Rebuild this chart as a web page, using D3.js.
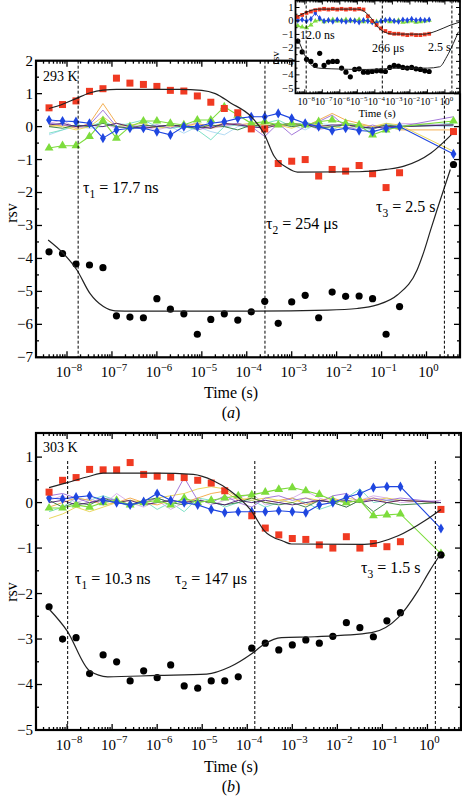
<!DOCTYPE html>
<html><head><meta charset="utf-8">
<script src="https://cdn.jsdelivr.net/npm/d3@7"></script>
<style>body{margin:0;background:#fff} text{font-family:"Liberation Serif","Times New Roman",serif;fill:#000}</style>
</head><body><script>
// ---------------- DATA ----------------
// log10(time / s) grids
const logTimeA = [-8.4,-8.1,-7.8,-7.5,-7.2,-6.9,-6.6,-6.3,-6.0,-5.7,-5.4,-5.1,-4.8,-4.5,-4.2,-3.9,-3.6,-3.3,-3.0,-2.7,-2.4,-2.1,-1.8,-1.5,-1.2,-0.9,-0.6,0.6];
const logTimeB = [-8.4,-8.1,-7.8,-7.5,-7.2,-6.9,-6.6,-6.3,-6.0,-5.7,-5.4,-5.1,-4.8,-4.5,-4.2,-3.9,-3.6,-3.3,-3.0,-2.7,-2.4,-2.1,-1.8,-1.5,-1.2,-0.9,-0.6,0.3];
const logTimeIn = [-8.4,-8.15,-7.9,-7.65,-7.4,-7.15,-6.9,-6.65,-6.4,-6.15,-5.9,-5.65,-5.4,-5.15,-4.9,-4.65,-4.4,-4.15,-3.9,-3.65,-3.4,-3.15,-2.9,-2.65,-2.4,-2.15,-1.9,-1.65,-1.4,-1.15,-0.9];
const decadeExps = [-8,-7,-6,-5,-4,-3,-2,-1,0];

// panel (a) 293 K
const redA = [0.57,0.67,0.78,1.07,1.15,1.47,1.32,1.28,1.22,1.10,1.08,0.93,0.74,0.55,0.42,-0.07,-0.07,-1.12,-1.05,-1.0,-1.5,-1.3,-1.35,-1.18,-1.43,-1.85,-1.4,-0.15];
const blackA = [-3.80,-3.85,-4.17,-4.2,-4.28,-5.74,-5.78,-5.8,-5.22,-5.54,-5.68,-6.3,-5.85,-5.68,-5.87,-5.62,-5.3,-5.97,-5.32,-5.12,-5.8,-5.02,-5.15,-5.14,-5.22,-6.3,-5.46,-1.15];
const greenA = [-0.65,-0.58,-0.58,-0.3,0.18,-0.35,0.0,0.17,0.17,0.1,0.05,0.2,0.2,0.6,0.35,0.1,0.15,0.05,0.1,0.05,0.15,0.2,0.1,0.05,-0.25,-0.1,0.0,0.17];
const blueA = [0.2,0.17,0.15,0.1,-0.35,-0.1,-0.05,-0.05,-0.15,-0.25,0.0,0.0,0.1,0.15,0.25,0.3,0.3,0.4,0.25,0.1,0.0,-0.12,-0.05,-0.12,-0.15,-0.05,0.0,-0.83];
const orangeA = [0.0,0.05,-0.05,0.1,0.7,0.1,0.0,-0.05,0.0,0.05,0.0,0.1,0.0,0.1,0.05,0.1,0.05,0.0,0.1,0.0,0.2,0.4,0.2,0.1,0.0,0.05,-0.1,-0.1];
const yellowA = [0.05,0.0,-0.1,0.0,0.3,0.0,0.05,0.1,-0.05,0.0,0.05,0.0,-0.05,0.05,0.1,0.0,0.1,0.05,-0.05,0.1,0.05,0.0,-0.05,0.05,0.0,0.1,0.05,-0.75];
const purpleA = [0.1,0.05,0.0,0.05,0.5,0.0,-0.05,0.0,0.05,-0.05,0.1,-0.1,0.0,0.05,0.1,0.0,-0.3,0.1,-0.25,0.0,0.15,0.35,0.0,-0.1,0.05,-0.1,0.0,0.3];
const cyanA = [-0.2,-0.1,0.05,0.0,0.15,0.0,0.1,0.2,0.0,-0.05,0.0,-0.1,-0.4,0.0,0.05,-0.05,0.1,0.2,0.0,0.15,0.0,-0.1,0.1,0.0,-0.1,0.1,0.0,0.1];
const lightBlueA = [-0.25,-0.1,0.0,-0.05,0.0,0.1,0.05,-0.1,0.05,0.0,-0.2,0.0,-0.15,-0.25,0.0,0.05,0.15,0.0,0.05,-0.1,0.1,0.05,-0.05,0.0,-0.2,0.0,0.05,0.0];
const darkPurpleA = [0.05,0.1,0.0,0.05,0.0,0.1,0.0,-0.05,0.0,0.05,0.0,0.0,-0.05,0.1,0.05,0.0,-0.05,0.05,0.1,0.05,0.0,0.05,0.05,0.0,-0.05,0.0,0.0,0.05];
const darkGreenA = [0.0,-0.05,0.05,0.0,0.1,0.0,-0.05,0.05,0.0,0.05,0.0,-0.05,0.05,0.0,-0.1,0.05,0.0,0.1,0.0,0.05,-0.05,0.0,0.05,0.0,-0.05,0.05,0.0,0.05];
const lavenderA = [0.1,0.2,-0.05,0.0,0.1,-0.05,0.05,0.0,-0.1,0.0,0.05,0.1,-0.05,0.0,0.1,-0.05,0.0,0.05,0.0,0.1,-0.1,0.0,0.1,0.05,0.0,-0.05,0.1,0.05];
const redFitA = [[-8.4,0.55],[-8.1,0.68],[-7.8,0.85],[-7.5,1.02],[-7.2,1.11],[-6.9,1.13],[-5.5,1.13],[-5.0,1.1],[-4.7,1.0],[-4.36,0.72],[-3.9,0.3],[-3.62,-0.2],[-3.39,-0.9],[-3.1,-1.25],[-2.87,-1.38],[-1.5,-1.37],[-0.9,-1.3],[-0.5,-1.2],[0.1,-0.8],[0.55,-0.25]];
const blackFitA = [[-8.42,-3.44],[-8.08,-3.85],[-7.78,-4.35],[-7.49,-5.06],[-7.19,-5.46],[-6.93,-5.59],[-6.5,-5.6],[-4,-5.6],[-2.2,-5.57],[-1.54,-5.52],[-1.1,-5.41],[-0.65,-5.11],[-0.21,-4.35],[-0.06,-3.8],[0.09,-3.14],[0.24,-2.5],[0.53,-1.3]];
const tausA = [17.7e-9, 254e-6, 2.5];

// panel (b) 303 K
const redB = [0.23,0.49,0.55,0.73,0.72,0.72,0.88,0.62,0.58,0.56,0.55,0.49,0.43,0.26,null,-0.29,-0.56,-0.71,-0.79,-0.81,-0.93,-1.0,-0.75,-1.0,-0.9,-0.97,-0.86,-0.15];
const blackB = [-2.29,-3.0,-2.97,-3.76,-3.35,-3.5,-3.92,-3.7,-3.85,-3.57,-4.03,-4.08,-3.92,-3.92,-3.83,-3.2,-3.09,-3.24,-3.13,-3.02,-3.09,-2.94,-2.64,-2.75,-2.95,-2.6,-2.42,-1.15];
const greenB = [-0.12,-0.12,-0.05,-0.1,0.0,0.05,-0.05,0.0,0.05,-0.05,0.1,0.0,0.05,0.1,0.15,0.17,0.23,0.29,0.33,0.26,0.18,0.05,0.0,0.05,-0.29,-0.27,-0.25,-1.12];
const blueB = [0.1,0.08,0.12,0.15,0.05,0.0,-0.05,0.02,0.2,0.05,0.0,-0.05,-0.15,-0.22,-0.2,-0.2,-0.2,-0.18,-0.2,-0.22,-0.05,0.0,0.11,0.2,0.33,0.35,0.35,-0.57];
const yellowB = [-0.35,-0.25,-0.1,-0.2,-0.1,0.0,0.05,0.0,0.1,0.15,0.2,0.3,0.35,0.3,0.1,0.05,0.1,0.05,0.0,0.1,0.05,0.0,0.1,0.05,0.05,0.1,0.05,0.0];
const orangeB = [-0.1,0.0,0.1,0.05,-0.05,0.0,0.1,0.0,-0.05,0.05,0.0,0.1,0.2,0.25,0.05,0.1,0.0,0.05,0.1,-0.05,0.05,0.1,0.0,0.05,0.1,0.0,0.05,0.0];
const purpleB = [0.15,0.2,0.1,0.0,0.1,0.05,-0.05,0.0,0.1,0.0,0.55,0.05,0.0,0.15,0.0,-0.1,0.1,0.15,0.05,0.1,0.0,0.15,0.2,0.0,0.1,0.05,0.1,0.0];
const cyanB = [-0.2,-0.1,0.1,0.05,0.15,0.05,-0.1,0.05,-0.15,0.0,-0.2,0.1,0.05,-0.1,0.0,0.05,-0.1,0.0,0.1,0.0,-0.15,-0.05,0.1,0.3,0.0,0.05,0.05,0.0];
const lavenderB = [0.05,0.15,0.0,0.1,-0.05,0.2,0.0,-0.1,0.05,-0.15,0.0,0.1,-0.05,0.05,0.1,0.2,-0.05,0.0,0.1,0.25,0.1,0.0,-0.1,0.05,0.15,0.1,0.0,0.05];
const darkPurpleB = [0.0,0.05,-0.05,0.0,0.05,0.0,0.05,-0.05,0.0,0.05,0.0,0.05,0.0,-0.05,0.05,0.0,0.05,0.0,-0.05,0.0,0.05,0.0,0.05,0.0,0.05,0.0,0.05,0.0];
const darkGreenB = [0.05,-0.1,0.0,-0.05,0.1,0.0,-0.05,0.05,0.1,0.0,-0.05,0.05,0.0,-0.05,0.0,0.1,0.0,-0.05,0.0,-0.1,0.05,0.0,-0.1,0.05,-0.2,0.0,-0.05,0.0];
const redFitB = [[-8.4,0.33],[-8.0,0.44],[-7.5,0.58],[-7.2,0.65],[-6,0.65],[-5.2,0.62],[-4.75,0.48],[-4.38,0.26],[-3.91,-0.18],[-3.62,-0.62],[-3.2,-0.85],[-3.02,-0.91],[-1.4,-0.92],[-0.65,-0.73],[-0.06,-0.4],[0.3,-0.15]];
const blackFitB = [[-8.4,-2.34],[-8.0,-2.82],[-7.5,-3.7],[-7.1,-3.83],[-6,-3.8],[-4.9,-3.77],[-4.38,-3.61],[-3.91,-3.33],[-3.62,-3.11],[-3.24,-2.97],[-2.5,-2.95],[-1.24,-2.86],[-0.65,-2.53],[-0.21,-1.94],[0.05,-1.5],[0.3,-1.12]];
const tausB = [10.3e-9, 147e-6, 1.5];

// inset
const redIn = [0.3,0.45,0.6,0.7,0.8,0.85,0.9,0.85,0.9,0.85,0.9,0.85,0.9,0.85,0.9,0.85,0.35,0.0,-0.3,-0.55,-0.75,-0.88,-0.95,-0.95,-1.0,-1.05,-1.0,-1.05,-1.05,-1.0,-0.95];
const blackIn = [-1.5,-2.3,-2.85,-3.0,-3.3,-2.4,-3.3,-3.05,-3.0,-3.0,-3.5,-3.8,-4.15,-3.6,-3.55,-3.8,-3.8,-3.75,-3.7,-3.7,-3.75,-3.45,-3.3,-3.35,-3.45,-3.5,-3.45,-3.55,-3.6,-3.7,-3.75];
const greenIn = [-0.35,-0.45,-0.5,-0.3,0.0,0.1,-0.05,0.05,0.1,0.0,0.05,0.1,0.0,0.05,0.1,-0.05,0.05,-0.1,-0.05,0.0,0.05,-0.05,0.0,0.05,-0.1,-0.05,0.0,-0.1,-0.05,0.0,0.05];
const blueIn = [0.05,0.1,0.0,0.15,0.6,0.2,0.0,0.05,-0.05,0.1,0.0,-0.05,0.05,0.0,-0.1,0.05,0.0,-0.1,-0.15,0.0,0.05,0.1,0.0,-0.05,0.1,0.05,0.15,0.05,0.1,0.05,0.1];
const redFitIn = [[-8.4,0.35],[-8.0,0.6],[-7.6,0.8],[-7.2,0.88],[-5,0.88],[-4.6,0.7],[-4.2,0.2],[-3.8,-0.5],[-3.4,-0.85],[-3.0,-0.97],[-1.2,-0.98],[-0.5,-0.75],[0.29,-0.32],[0.85,-0.08]];
const blackFitIn = [[-8.4,-1.3],[-8.15,-2.1],[-7.9,-2.8],[-7.6,-3.3],[-7.2,-3.5],[-6.5,-3.55],[-4.5,-3.6],[-3.5,-3.55],[-2.5,-3.5],[-1,-3.5],[-0.3,-3.4],[0.1,-2.66],[0.48,-1.67],[0.77,-0.8]];
const tausIn = [12.0e-9, 266e-6, 2.5];

// ---------------- DRAWING ----------------
const svg = d3.select("body").append("svg").attr("width",462).attr("height",798);
svg.append("rect").attr("width",462).attr("height",798).attr("fill","#fff");
const T = e => Math.pow(10, e);
const COL = {red:"#f03a22", green:"#7ddc3c", blue:"#1f46e0", orange:"#f2a640", yellow:"#e6d24a",
  purple:"#9a6ad6", cyan:"#6fdcc0", lightBlue:"#a9d6f2", darkPurple:"#4a1870", darkGreen:"#2f7a38", lavender:"#d6a8e8"};

function drawAxes(g, x, y, o) {
  const [x0, x1] = x.range(), [y0, y1] = y.range();
  const [d0, d1] = x.domain();
  const minors = [];
  for (let k = -10; k <= 1; k++) for (let m = 2; m <= 9; m++) { const v = m * T(k); if (v > d0 && v < d1) minors.push(v); }
  const majors = decadeExps.map(T);
  const tk = g.append("g").attr("stroke", "#000").attr("stroke-width", o.tw);
  minors.forEach(v => {
    tk.append("line").attr("x1", x(v)).attr("x2", x(v)).attr("y1", y0).attr("y2", y0 - o.mn);
    tk.append("line").attr("x1", x(v)).attr("x2", x(v)).attr("y1", y1).attr("y2", y1 + o.mn);
  });
  majors.forEach(v => {
    tk.append("line").attr("x1", x(v)).attr("x2", x(v)).attr("y1", y0).attr("y2", y0 - o.mj);
    tk.append("line").attr("x1", x(v)).attr("x2", x(v)).attr("y1", y1).attr("y2", y1 + o.mj);
  });
  o.yMajor.forEach(v => {
    tk.append("line").attr("x1", x0).attr("x2", x0 + o.mj).attr("y1", y(v)).attr("y2", y(v));
    tk.append("line").attr("x1", x1).attr("x2", x1 - o.mj).attr("y1", y(v)).attr("y2", y(v));
  });
  o.yMinor.forEach(v => {
    tk.append("line").attr("x1", x0).attr("x2", x0 + o.mn).attr("y1", y(v)).attr("y2", y(v));
    tk.append("line").attr("x1", x1).attr("x2", x1 - o.mn).attr("y1", y(v)).attr("y2", y(v));
  });
  g.append("rect").attr("x", x0).attr("y", y1).attr("width", x1 - x0).attr("height", y0 - y1)
    .attr("fill", "none").attr("stroke", "#000").attr("stroke-width", o.fw);
  decadeExps.forEach(k => {
    const t = g.append("text").attr("x", x(T(k)) + o.lx).attr("y", y0 + o.ly).attr("text-anchor", "middle").attr("font-size", o.fs);
    t.append("tspan").text("10");
    t.append("tspan").attr("dy", -o.fs * 0.45).attr("font-size", o.fs * o.sup).text(k === 0 ? "0" : "\u2212" + (-k));
  });
  o.yMajor.forEach(v => {
    g.append("text").attr("x", x0 - o.yl).attr("y", y(v) + o.yfs * 0.33).attr("text-anchor", "end").attr("font-size", o.yfs)
      .text(v < 0 ? "\u2212" + (-v) : String(v));
  });
}

function drawData(g, x, y, times, c, s) {
  const pts = vals => vals.map((v, i) => [times[i], v]).filter(d => d[1] !== null);
  const line = d3.line().x(d => x(T(d[0]))).y(d => y(d[1]));
  (c.thin || []).forEach(([vals, col]) => {
    g.append("path").attr("d", line(pts(vals))).attr("fill", "none").attr("stroke", col).attr("stroke-width", s.thinW);
  });
  [[c.green, COL.green, d3.symbolTriangle, s.tri], [c.blue, COL.blue, d3.symbolDiamond, s.dia]].forEach(([vals, col, sym, sz]) => {
    if (!vals) return;
    g.append("path").attr("d", line(pts(vals))).attr("fill", "none").attr("stroke", col).attr("stroke-width", s.markLineW);
    g.selectAll(null).data(pts(vals)).enter().append("path")
      .attr("transform", d => `translate(${x(T(d[0]))},${y(d[1])})`)
      .attr("d", d3.symbol(sym).size(sz)).attr("fill", col);
  });
  g.selectAll(null).data(pts(c.red)).enter().append("rect")
    .attr("x", d => x(T(d[0])) - s.sq / 2).attr("y", d => y(d[1]) - s.sq / 2)
    .attr("width", s.sq).attr("height", s.sq).attr("fill", COL.red);
  g.selectAll(null).data(pts(c.black)).enter().append("circle")
    .attr("cx", d => x(T(d[0]))).attr("cy", d => y(d[1])).attr("r", s.r).attr("fill", "#000");
  const fit = d3.line().curve(d3.curveMonotoneX).x(d => x(T(d[0]))).y(d => y(d[1]));
  [c.redFit, c.blackFit].forEach(f => g.append("path").attr("d", fit(f)).attr("fill", "none").attr("stroke", "#222").attr("stroke-width", s.fitW));
}

function dashed(g, x, taus, ya, yb, w) {
  taus.forEach(t => g.append("line").attr("x1", x(t)).attr("x2", x(t)).attr("y1", ya).attr("y2", yb)
    .attr("stroke", "#000").attr("stroke-width", w).attr("stroke-dasharray", "3,2"));
}

function tauLabel(g, x, y, idx, rest, fs) {
  const t = g.append("text").attr("x", x).attr("y", y).attr("font-size", fs);
  t.append("tspan").text("\u03c4");
  t.append("tspan").attr("dy", fs * 0.3).attr("font-size", fs * 0.72).text(idx);
  t.append("tspan").attr("dy", -fs * 0.3).text(" = " + rest);
}

const sMain = {thinW: 0.9, markLineW: 1.1, tri: 34, dia: 30, sq: 7, r: 3.6, fitW: 1.2};
const axMain = {tw: 1.3, fw: 2.2, mj: 6, mn: 3, fs: 15, yfs: 15, sup: 0.72, lx: 2, ly: 20, yl: 3};

// ----- panel (a) -----
const xA = d3.scaleLog().domain([T(-8.69), T(0.745)]).range([36, 460]);
const yA = d3.scaleLinear().domain([-7, 2]).range([357.3, 60.7]);
const gA = svg.append("g");
drawData(gA, xA, yA, logTimeA, {
  thin: [[lightBlueA, COL.lightBlue], [cyanA, COL.cyan], [lavenderA, COL.lavender], [orangeA, COL.orange], [yellowA, COL.yellow],
         [purpleA, COL.purple], [darkGreenA, COL.darkGreen], [darkPurpleA, COL.darkPurple]],
  green: greenA, blue: blueA, red: redA, black: blackA, redFit: redFitA, blackFit: blackFitA
}, sMain);
dashed(gA, xA, tausA, 60.7, 357.3, 1);
drawAxes(gA, xA, yA, Object.assign({yMajor: [-7,-6,-5,-4,-3,-2,-1,0,1,2], yMinor: [-6.5,-5.5,-4.5,-3.5,-2.5,-1.5,-0.5,0.5,1.5]}, axMain));
gA.append("text").attr("x", 43).attr("y", 81).attr("font-size", 14).text("293 K");
tauLabel(gA, 83, 193, "1", "17.7 ns", 16);
tauLabel(gA, 266, 229, "2", "254 \u03bcs", 16);
tauLabel(gA, 376, 212, "3", "2.5 s", 16);
gA.append("text").attr("transform", "translate(17,213) rotate(-90)").attr("text-anchor", "middle").attr("font-size", 16).text("rsv");
gA.append("text").attr("x", 231).attr("y", 398).attr("text-anchor", "middle").attr("font-size", 16).text("Time (s)");
const la = gA.append("text").attr("x", 231).attr("y", 418).attr("text-anchor", "middle").attr("font-size", 16);
la.append("tspan").text("("); la.append("tspan").attr("font-style", "italic").text("a"); la.append("tspan").text(")");

// ----- inset -----
const xI = d3.scaleLog().domain([T(-8.53), T(0.86)]).range([295.5, 460]);
const yI = d3.scaleLinear().domain([-5.37, 1.52]).range([93.3, 0.5]);
const gI = svg.append("g");
gI.append("rect").attr("x", 295.5).attr("y", 0).attr("width", 166).attr("height", 93.3).attr("fill", "#fff");
drawData(gI, xI, yI, logTimeIn, {
  thin: [], green: greenIn, blue: blueIn, red: redIn, black: blackIn, redFit: redFitIn, blackFit: blackFitIn
}, {thinW: 0.7, markLineW: 0.9, tri: 12, dia: 12, sq: 3.8, r: 2.6, fitW: 1});
dashed(gI, xI, tausIn, 0.5, 93.3, 1);
drawAxes(gI, xI, yI, {yMajor: [-5,-4,-3,-2,-1,0,1], yMinor: [-4.5,-3.5,-2.5,-1.5,-0.5,0.5],
  tw: 1, fw: 1.8, mj: 4, mn: 2, fs: 10, yfs: 10.5, sup: 0.7, lx: 1.5, ly: 12, yl: 2});
gI.append("text").attr("x", 300).attr("y", 39).attr("font-size", 12).text("12.0 ns");
gI.append("text").attr("x", 372).attr("y", 52).attr("font-size", 12).text("266 \u03bcs");
gI.append("text").attr("x", 428).attr("y", 51).attr("font-size", 12).text("2.5 s");
gI.append("text").attr("x", 377).attr("y", 117).attr("text-anchor", "middle").attr("font-size", 11).text("Time (s)");
gI.append("text").attr("transform", "translate(279,58) rotate(-90)").attr("text-anchor", "middle").attr("font-size", 11).text("rsv");

// ----- panel (b) -----
const xB = d3.scaleLog().domain([T(-8.69), T(0.745)]).range([36, 461]);
const yB = d3.scaleLinear().domain([-5, 1.53]).range([730, 433]);
const gB = svg.append("g");
drawData(gB, xB, yB, logTimeB, {
  thin: [[cyanB, COL.cyan], [lavenderB, COL.lavender], [orangeB, COL.orange], [yellowB, COL.yellow],
         [purpleB, COL.purple], [darkGreenB, COL.darkGreen], [darkPurpleB, COL.darkPurple]],
  green: greenB, blue: blueB, red: redB, black: blackB, redFit: redFitB, blackFit: blackFitB
}, sMain);
dashed(gB, xB, tausB, 461, 730, 1);
drawAxes(gB, xB, yB, Object.assign({yMajor: [-5,-4,-3,-2,-1,0,1], yMinor: [-4.5,-3.5,-2.5,-1.5,-0.5,0.5]}, axMain));
gB.append("text").attr("x", 43).attr("y", 452).attr("font-size", 14).text("303 K");
tauLabel(gB, 75, 584, "1", "10.3 ns", 16);
tauLabel(gB, 175, 584, "2", "147 \u03bcs", 16);
tauLabel(gB, 361, 573, "3", "1.5 s", 16);
gB.append("text").attr("transform", "translate(17,592) rotate(-90)").attr("text-anchor", "middle").attr("font-size", 16).text("rsv");
gB.append("text").attr("x", 231).attr("y", 772).attr("text-anchor", "middle").attr("font-size", 16).text("Time (s)");
const lb = gB.append("text").attr("x", 231).attr("y", 792).attr("text-anchor", "middle").attr("font-size", 16);
lb.append("tspan").text("("); lb.append("tspan").attr("font-style", "italic").text("b"); lb.append("tspan").text(")");
</script></body></html>
